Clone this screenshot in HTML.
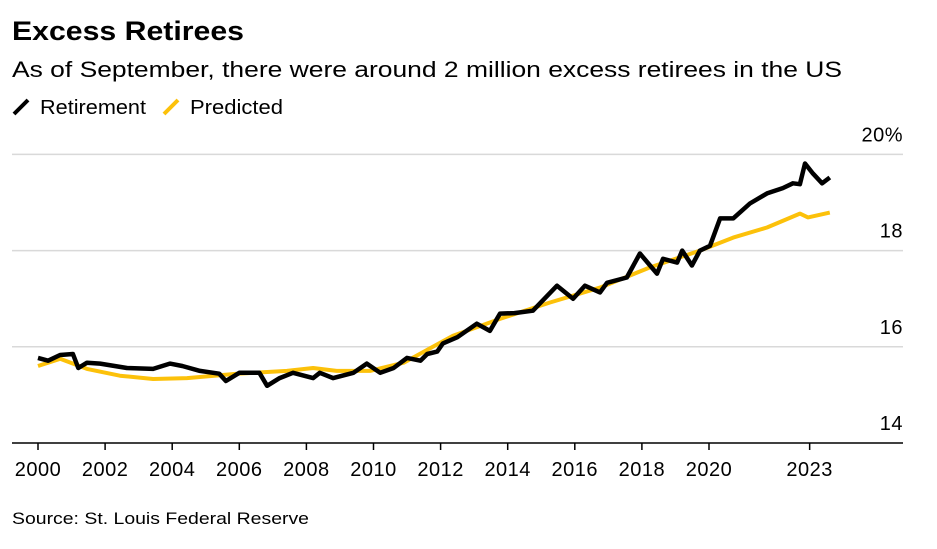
<!DOCTYPE html>
<html><head><meta charset="utf-8"><style>
body{margin:0;background:#fff;width:937px;height:544px;overflow:hidden;font-family:"Liberation Sans",Arial,sans-serif;}
svg text{font-family:"Liberation Sans",Arial,sans-serif;}
</style></head><body>
<svg id="c" width="937" height="544">
<text x="12" y="40" font-size="27" font-weight="bold" fill="#000" textLength="232" lengthAdjust="spacingAndGlyphs">Excess Retirees</text>
<text x="12" y="77" font-size="22.5" fill="#000" textLength="830" lengthAdjust="spacingAndGlyphs">As of September, there were around 2 million excess retirees in the US</text>
<g>
<line x1="14" y1="114" x2="28" y2="100" stroke="#000" stroke-width="4"/>
<text x="40" y="114" font-size="20" textLength="106" lengthAdjust="spacingAndGlyphs">Retirement</text>
<line x1="164" y1="114" x2="178" y2="100" stroke="#fcc10a" stroke-width="4"/>
<text x="190" y="114" font-size="20" textLength="93" lengthAdjust="spacingAndGlyphs">Predicted</text>
</g>
<g id="grid"></g><g id="lines"></g><g id="xax"></g>
<text x="12" y="524" font-size="17" fill="#000" textLength="297" lengthAdjust="spacingAndGlyphs">Source: St. Louis Federal Reserve</text>
</svg>
<script>
const yTicks=[14,16,18,20];
const yTickLabels=["14","16","18","20%"];
const xTicks=[2000,2002,2004,2006,2008,2010,2012,2014,2016,2018,2020,2023];
const retYears=[2000,2000.3,2000.66,2001.04,2001.2,2001.46,2001.85,2002.65,2003.43,2003.93,2004.3,2004.83,2005.4,2005.6,2006.0,2006.6,2006.83,2007.2,2007.6,2008.2,2008.4,2008.8,2009.4,2009.8,2010.2,2010.6,2011.0,2011.4,2011.6,2011.9,2012.07,2012.5,2013.08,2013.47,2013.77,2014.2,2014.75,2015.47,2015.95,2016.3,2016.75,2016.96,2017.55,2017.94,2018.45,2018.63,2019.05,2019.2,2019.49,2019.73,2020.03,2020.33,2020.72,2021.22,2021.73,2022.2,2022.5,2022.71,2022.86,2023.1,2023.37,2023.6];
const retValues=[15.77,15.71,15.83,15.85,15.56,15.67,15.65,15.56,15.54,15.65,15.6,15.5,15.44,15.29,15.46,15.46,15.19,15.35,15.46,15.35,15.46,15.35,15.46,15.65,15.46,15.56,15.77,15.71,15.85,15.9,16.07,16.2,16.48,16.33,16.69,16.7,16.75,17.27,17.0,17.27,17.13,17.33,17.44,17.94,17.52,17.83,17.75,18.0,17.69,18.0,18.1,18.67,18.67,18.98,19.19,19.3,19.4,19.38,19.81,19.6,19.4,19.52];
const predYears=[2000,2000.66,2001.46,2002.44,2003.43,2004.44,2005.93,2007.42,2008.2,2008.9,2009.9,2010.9,2011.9,2012.37,2013.77,2015.26,2016.75,2018.24,2019.73,2020.72,2021.73,2022.71,2022.95,2023.6];
const predValues=[15.6,15.75,15.54,15.4,15.33,15.35,15.44,15.5,15.56,15.5,15.5,15.67,16.05,16.23,16.58,16.92,17.23,17.65,18.0,18.27,18.48,18.77,18.69,18.79];
const NS="http://www.w3.org/2000/svg";
const xS=y=>38+(y-2000)*33.55;
const yS=v=>443-(v-14)*48.1;
function mk(t,a,p){const e=document.createElementNS(NS,t);for(const k in a)e.setAttribute(k,a[k]);p.appendChild(e);return e;}
const grid=document.getElementById('grid');
yTicks.forEach((t,i)=>{
 if(t>14){const l=mk('line',{x1:12,x2:903,y1:yS(t),y2:yS(t),stroke:'#d9d9d9','stroke-width':1.5},grid);
 
 }
 const tx=mk('text',{x:903,y:yS(t)-13,'font-size':20,'letter-spacing':0.5,'text-anchor':'end',fill:'#000'},grid);
 tx.textContent=yTickLabels[i];
 
 
});
const xax=document.getElementById('xax');
const base=mk('line',{x1:12,x2:903,y1:443,y2:443,stroke:'#000','stroke-width':1.5},xax);


xTicks.forEach(t=>{
 const tk=mk('line',{x1:xS(t),x2:xS(t),y1:443,y2:450,stroke:'#000','stroke-width':1.5},xax);
 
 
 const tx=mk('text',{x:xS(t),y:476,'font-size':20,'letter-spacing':0.5,'text-anchor':'middle'},xax);
 tx.textContent=t;
 
 
});
const lines=document.getElementById('lines');
function path(xs,vs){return xs.map((x,i)=>(i?'L':'M')+xS(x).toFixed(1)+','+yS(vs[i]).toFixed(1)).join('');}
const p1=mk('path',{d:path(predYears,predValues),fill:'none',stroke:'#fcc10a','stroke-width':4,'stroke-linejoin':'round'},lines);


const p2=mk('path',{d:path(retYears,retValues),fill:'none',stroke:'#000','stroke-width':4.5,'stroke-linejoin':'round'},lines);


</script>
</body></html>
